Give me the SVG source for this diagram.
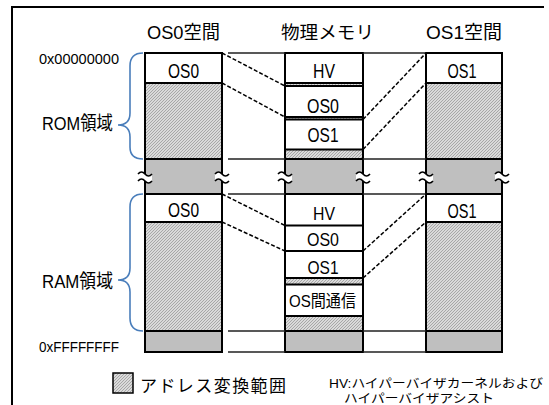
<svg xmlns="http://www.w3.org/2000/svg" width="549" height="405" viewBox="0 0 549 405">
<defs>
<pattern id="h" width="3" height="3" patternUnits="userSpaceOnUse"><rect width="3" height="3" fill="#dadada"/><path d="M-1,1 L1,-1 M0,3 L3,0 M2,4 L4,2" stroke="#9a9a9a" stroke-width="0.8"/></pattern>
<g id="sq"><path d="M-7,174 q3.5,-4 7,0 t7,0 L7,181 q-3.5,4 -7,0 t-7,0 Z" fill="#fff"/><path d="M-7,174 q3.5,-4 7,0 t7,0 M-7,181 q3.5,-4 7,0 t7,0" fill="none" stroke="#000" stroke-width="1.6"/></g>
</defs>
<style>
.t{font-family:"Liberation Sans","Noto Sans CJK JP",sans-serif;fill:#000}
.j{font-family:"Noto Sans CJK JP","Liberation Sans",sans-serif;fill:#000}
.c{text-anchor:middle}
.w{fill:#fff}
.hh{fill:url(#h)}
.g{fill:#bfbfbf}
.bd{fill:none;stroke:#000;stroke-width:2}
.ln{stroke:#000;stroke-width:2}
.hl{stroke:#222;stroke-width:1.5}
.dl{stroke:#000;stroke-width:1.5;stroke-dasharray:4 2;fill:none}
.br{fill:none;stroke:#4a7ebb;stroke-width:1.6}
</style>
<rect width="549" height="405" fill="#fff"/>
<path d="M12,405 L12,7 L544,7" fill="none" stroke="#000" stroke-width="2"/>

<g id="titles">
<text class="t" x="147" y="39" font-size="19" textLength="73" lengthAdjust="spacingAndGlyphs">OS0空間</text>
<text class="j" x="281" y="39" font-size="18" textLength="93" lengthAdjust="spacingAndGlyphs">物理メモリ</text>
<text class="t" x="426" y="39" font-size="19" textLength="76" lengthAdjust="spacingAndGlyphs">OS1空間</text>
</g>

<g id="addr-labels">
<text class="t" x="39" y="64" font-size="15" textLength="80" lengthAdjust="spacingAndGlyphs">0x00000000</text>
<text class="t" x="39" y="352" font-size="15" textLength="80" lengthAdjust="spacingAndGlyphs">0xFFFFFFFF</text>
</g>

<g id="rom-label">
<path class="br" d="M143,53 Q130,53 130,66 L130,113 Q130,125 118,125 Q130,125 130,137 L130,147 Q130,159 143,159"/>
<text class="t" x="42" y="130" font-size="19" textLength="71" lengthAdjust="spacingAndGlyphs">ROM領域</text>
</g>
<g id="ram-label">
<path class="br" d="M143,194 Q130,194 130,207 L130,268 Q130,280 118,280 Q130,280 130,292 L130,318 Q130,331 143,331"/>
<text class="t" x="42" y="288" font-size="19" textLength="71" lengthAdjust="spacingAndGlyphs">RAM領域</text>
</g>

<g id="os0-space">
<rect class="w" x="145" y="53" width="77" height="30"/>
<rect class="hh" x="145" y="83" width="77" height="76"/>
<rect class="g" x="145" y="159" width="77" height="35"/>
<rect class="w" x="145" y="194" width="77" height="28"/>
<rect class="hh" x="145" y="222" width="77" height="109"/>
<rect class="g" x="145" y="331" width="77" height="21"/>
<rect class="bd" x="145" y="53" width="77" height="299"/>
<path class="ln" d="M145,83 H222 M145,159 H222 M145,194 H222 M145,222 H222 M145,331 H222"/>
<text class="t c" x="183.5" y="78" font-size="20" textLength="31" lengthAdjust="spacingAndGlyphs">OS0</text>
<text class="t c" x="183.5" y="217" font-size="20" textLength="31" lengthAdjust="spacingAndGlyphs">OS0</text>
</g>

<g id="physical-memory">
<rect class="w" x="285" y="53" width="78" height="30"/>
<rect class="hh" x="285" y="83" width="78" height="3"/>
<rect class="w" x="285" y="86" width="78" height="31"/>
<rect class="hh" x="285" y="117" width="78" height="2.5"/>
<rect class="w" x="285" y="119.5" width="78" height="30"/>
<rect class="hh" x="285" y="149.5" width="78" height="9.5"/>
<rect class="g" x="285" y="159" width="78" height="35"/>
<rect class="w" x="285" y="194" width="78" height="84"/>
<rect class="hh" x="285" y="278" width="78" height="6.5"/>
<rect class="w" x="285" y="284.5" width="78" height="31.5"/>
<rect class="hh" x="285" y="316" width="78" height="15"/>
<rect class="g" x="285" y="331" width="78" height="21"/>
<rect class="bd" x="285" y="53" width="78" height="299"/>
<path class="ln" d="M285,83 H363 M285,86 H363 M285,117 H363 M285,119.5 H363 M285,149.5 H363 M285,159 H363 M285,194 H363 M285,225.5 H363 M285,251 H363 M285,278 H363 M285,284.5 H363 M285,316 H363 M285,331 H363"/>
<text class="t c" x="324" y="78" font-size="20" textLength="22" lengthAdjust="spacingAndGlyphs">HV</text>
<text class="t c" x="323" y="113" font-size="20" textLength="32" lengthAdjust="spacingAndGlyphs">OS0</text>
<text class="t c" x="323" y="141.5" font-size="20" textLength="31" lengthAdjust="spacingAndGlyphs">OS1</text>
<text class="t c" x="324" y="220" font-size="19" textLength="22" lengthAdjust="spacingAndGlyphs">HV</text>
<text class="t c" x="323" y="246" font-size="19" textLength="32" lengthAdjust="spacingAndGlyphs">OS0</text>
<text class="t c" x="323" y="274" font-size="19" textLength="31" lengthAdjust="spacingAndGlyphs">OS1</text>
<text class="t c" x="322.5" y="307" font-size="17" textLength="67" lengthAdjust="spacingAndGlyphs">OS間通信</text>
</g>

<g id="os1-space">
<rect class="w" x="426" y="53" width="76" height="30"/>
<rect class="hh" x="426" y="83" width="76" height="76"/>
<rect class="g" x="426" y="159" width="76" height="35"/>
<rect class="w" x="426" y="194" width="76" height="28"/>
<rect class="hh" x="426" y="222" width="76" height="109"/>
<rect class="g" x="426" y="331" width="76" height="21"/>
<rect class="bd" x="426" y="53" width="76" height="299"/>
<path class="ln" d="M426,83 H502 M426,159 H502 M426,194 H502 M426,222 H502 M426,331 H502"/>
<text class="t c" x="462" y="78" font-size="20" textLength="29" lengthAdjust="spacingAndGlyphs">OS1</text>
<text class="t c" x="462" y="218" font-size="20" textLength="29" lengthAdjust="spacingAndGlyphs">OS1</text>
</g>

<g id="connectors">
<path class="hl" d="M228,53 H285 M228,159 H285 M228,194 H285 M228,331 H285 M228,352 H285 M363,53 H426 M363,159 H426 M363,194 H426 M363,331 H426 M363,352 H426"/>
<path class="dl" d="M222,53 L285,86 M222,83 L285,117 M363,119.5 L426,53 M363,149.5 L426,83 M222,194 L285,225.5 M222,222 L285,251 M363,251 L426,194 M363,278 L426,222"/>
</g>

<g id="breaks">
<use href="#sq" x="145"/><use href="#sq" x="222"/>
<use href="#sq" x="285"/><use href="#sq" x="363"/>
<use href="#sq" x="426"/><use href="#sq" x="502"/>
</g>

<g id="legend">
<rect x="113" y="373" width="20" height="20" fill="url(#h)" stroke="#000" stroke-width="1.5"/>
<text class="j" x="140" y="391.5" font-size="17" textLength="146" lengthAdjust="spacing">アドレス変換範囲</text>
<text class="t" x="329" y="388" font-size="12.5" textLength="214" lengthAdjust="spacingAndGlyphs">HV:ハイパーバイザカーネルおよび</text>
<text class="t" x="344" y="403" font-size="12.5" textLength="150" lengthAdjust="spacingAndGlyphs">ハイパーバイザアシスト</text>
</g>
</svg>
